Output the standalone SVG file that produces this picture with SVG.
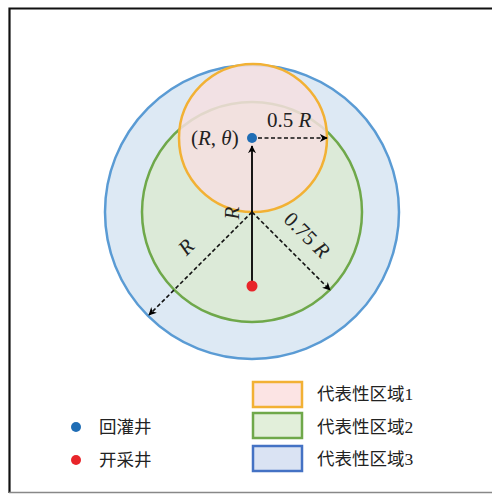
<svg xmlns="http://www.w3.org/2000/svg" width="492" height="494" viewBox="0 0 492 494">
<defs>
<marker id="ah" viewBox="0 0 10 10" refX="9" refY="5" markerWidth="8" markerHeight="8" markerUnits="userSpaceOnUse" orient="auto">
<path d="M0,0 L10,5 L0,10 L3,5 Z" fill="#000"/>
</marker>
<style>
.lbl{font-family:"Liberation Serif","Noto Sans CJK SC",serif;font-size:17.5px;fill:#222}
.big{font-size:21px}
.it{font-style:italic}
.dash{stroke:#111;stroke-width:1.6;stroke-dasharray:4,2.5;fill:none}
</style>
</defs>
<rect x="0" y="0" width="492" height="494" fill="#fff"/>
<path d="M9.5,493 V8.5 H492" fill="none" stroke="#111" stroke-width="2.2"/>
<line x1="9" y1="492.5" x2="492" y2="492.5" stroke="#888" stroke-width="1.5"/>
<g id="region3"><circle cx="252" cy="212" r="147" fill="#DDE9F4" stroke="#5A9BD4" stroke-width="2.5"/></g>
<g id="region2"><circle cx="252" cy="212" r="110" fill="#DCEAD8" stroke="#6FA84A" stroke-width="2.5"/></g>
<g id="region1"><circle cx="253" cy="138" r="74" fill="#F6DFE0" fill-opacity="0.85" stroke="#F2B134" stroke-width="2.5"/></g>
<g id="connectors">
<line x1="252" y1="286" x2="252" y2="146" stroke="#000" stroke-width="1.8" marker-end="url(#ah)"/>
<line class="dash" x1="258" y1="138" x2="327" y2="138" marker-end="url(#ah)"/>
<line class="dash" x1="252" y1="212" x2="149" y2="315" marker-end="url(#ah)"/>
<line class="dash" x1="252" y1="212" x2="330" y2="290" marker-end="url(#ah)"/>
</g>
<g id="injection-well"><circle cx="252" cy="138" r="5" fill="#1F6DB5"/></g>
<g id="production-well"><circle cx="252" cy="286" r="5.5" fill="#E8252A"/></g>
<g id="labels">
<text class="lbl big" x="191" y="145">(<tspan class="it">R</tspan>, <tspan class="it">θ</tspan>)</text>
<text class="lbl big" x="267" y="127">0.5 <tspan class="it">R</tspan></text>
<text class="lbl big it" x="0" y="0" transform="translate(239,213) rotate(-90)" text-anchor="middle">R</text>
<text class="lbl big it" x="0" y="0" transform="translate(191,252) rotate(-45)" text-anchor="middle">R</text>
<text class="lbl big" x="0" y="0" transform="translate(302,240) rotate(45)" text-anchor="middle">0.75 <tspan class="it">R</tspan></text>
</g>
<g id="legend">
<circle cx="76" cy="427" r="5" fill="#1F6DB5"/>
<text class="lbl" x="99" y="433">回灌井</text>
<circle cx="76" cy="460" r="5" fill="#E8252A"/>
<text class="lbl" x="99" y="466">开采井</text>
<rect x="253" y="382" width="49" height="25" fill="#FCE4E4" stroke="#F2B134" stroke-width="2.5"/>
<text class="lbl" x="317" y="400">代表性区域1</text>
<rect x="253" y="413" width="49" height="25" fill="#E2EFDA" stroke="#6FA84A" stroke-width="2.5"/>
<text class="lbl" x="317" y="433">代表性区域2</text>
<rect x="253" y="446" width="49" height="25" fill="#DAE3F3" stroke="#4472C4" stroke-width="2.5"/>
<text class="lbl" x="317" y="465">代表性区域3</text>
</g>
</svg>
